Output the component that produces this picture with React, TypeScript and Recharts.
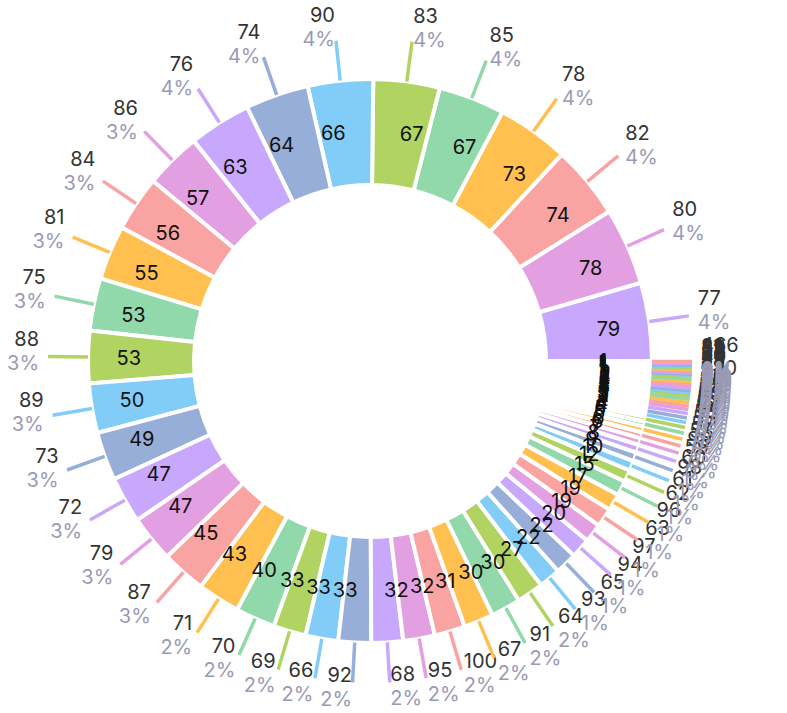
import React from "react";
import { PieChart, Pie, Cell } from "recharts";

const names = [
  "77", "80", "82", "78", "85", "83", "90", "74", "76", "86", "84", "81", "75", "88", "89", "73",
  "72", "79", "87", "71", "70", "69", "66", "92", "68", "95", "100", "67", "91", "64", "93", "65",
  "94", "97", "63",
  "96", "62", "61", "98", "60", "59", "99", "58", "57", "56", "55", "54", "52", "53", "50", "51",
  "48", "49", "45",
  "47", "46", "44", "42", "520", "43", "41", "38",
  "35", "39", "40", "36", "30", "33", "37", "28", "34", "32", "29", "31", "466",
];

const counts = [
  79, 78, 74, 73, 67, 67, 66, 64, 63, 57, 56, 55, 53, 53, 50, 49,
  47, 47, 45, 43, 40, 33, 33, 33, 32, 32, 31, 30, 30, 27, 22, 22,
  20, 19, 19,
  17, 15, 12, 10, 9, 8, 7, 6, 6, 5, 5, 4, 4, 4, 3, 3,
  3, 3, 3,
  2, 2, 2, 2, 2, 2, 2, 2,
  1, 1, 1, 1, 1, 1, 1, 1, 1, 1, 1, 1, 1,
];

const palette = ["#c8a8fc", "#e2a0e2", "#f9a3a3", "#ffc04f", "#91d8aa", "#b1d362", "#82cdf8", "#97aed8"];

const data = names.map((name, i) => ({ name, value: counts[i] }));

const RAD = Math.PI / 180;
const polar = (cx: number, cy: number, r: number, a: number) => ({
  x: cx + r * Math.cos(-a * RAD),
  y: cy + r * Math.sin(-a * RAD),
});

const font = "Inter, 'Noto Sans', sans-serif";

const renderLabel = (props: any) => {
  const { cx, cy, midAngle, innerRadius, outerRadius, percent, name, value, index } = props;
  const color = palette[index % palette.length];
  const start = polar(cx, cy, outerRadius, midAngle);
  const end = polar(cx, cy, outerRadius + 40, midAngle);
  const mid = polar(cx, cy, (innerRadius + outerRadius) / 2, midAngle);
  const txt = polar(cx, cy, outerRadius + 49, midAngle);
  const anchor = Math.cos(midAngle * RAD) >= 0 ? "start" : "end";
  return (
    <g>
      <line x1={start.x} y1={start.y} x2={end.x} y2={end.y} stroke={color} strokeWidth={3.5} />
      <text x={mid.x} y={mid.y} textAnchor={anchor} dominantBaseline="central" fill="#111" fontSize={20} fontFamily={font}>
        {value}
      </text>
      <text x={txt.x} y={txt.y - 17} textAnchor={anchor} dominantBaseline="central" fill="#333" fontSize={20} fontFamily={font}>
        {name}
      </text>
      <text x={txt.x} y={txt.y + 7} textAnchor={anchor} dominantBaseline="central" fill="#9a9ab4" fontSize={20} fontFamily={font}>
        {Math.round(percent * 100)}%
      </text>
    </g>
  );
};

export default function App() {
  return (
    <div style={{ position: "absolute", left: 0, top: 0, background: "#fff" }}>
      <PieChart width={787} height={713} margin={{ top: 0, right: 0, bottom: 0, left: 0 }}>
        <Pie
          data={data}
          dataKey="value"
          nameKey="name"
          cx={370}
          cy={361}
          innerRadius={176}
          outerRadius={282}
          startAngle={0}
          endAngle={360}
          stroke="#fff"
          strokeWidth={4}
          label={renderLabel}
          labelLine={false}
          isAnimationActive={false}
        >
          {data.map((d, i) => (
            <Cell key={d.name + i} fill={palette[i % palette.length]} stroke="#fff" strokeWidth={4} />
          ))}
        </Pie>
      </PieChart>
    </div>
  );
}
